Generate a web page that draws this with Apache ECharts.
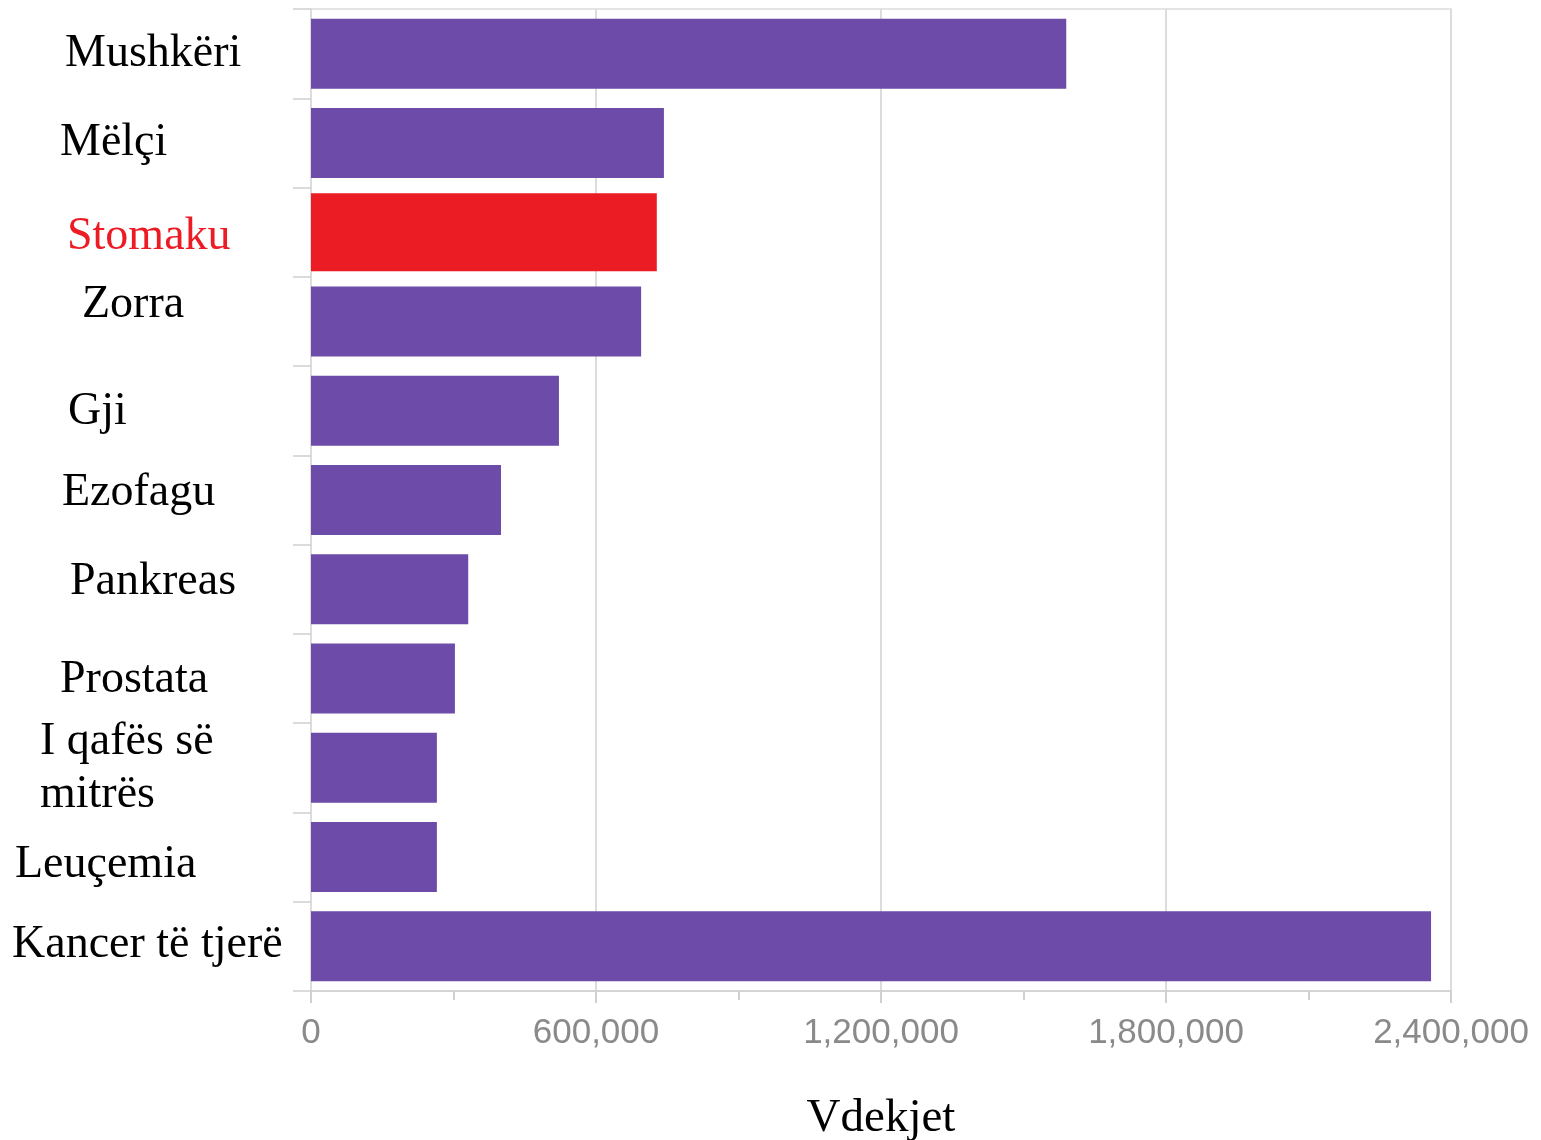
<!DOCTYPE html>
<html>
<head>
<meta charset="utf-8">
<script src="https://cdn.jsdelivr.net/npm/echarts@6/dist/echarts.min.js"></script>
<style>html,body{margin:0;padding:0;background:#fff}#c{width:1541px;height:1140px}</style>
</head>
<body>
<div id="c"></div>
<script>
const categories = ['Mushkëri','Mëlçi','Stomaku','Zorra','Gji','Ezofagu','Pankreas','Prostata','I qafës së\nmitrës','Leuçemia','Kancer të tjerë'];
const deaths = [1590000, 743000, 728000, 695000, 522000, 400000, 331000, 303000, 265000, 265000, 2358000];
const highlightIndex = 2;
const xTicks = [0, 600000, 1200000, 1800000, 2400000];

// label style offsets (dx from x=12, dy from band centre)
const labelDx = [53, 48, 55, 70, 56, 50, 58, 48, 28, 3, 0];
const labelDy = [0, 0, 5, -17, 1, -7, -7, 1, 1, 8, -1];

const purple = '#6c4ba9', red = '#ec1c24';

const rich = {};
categories.forEach((c, i) => {
  const dy = labelDy[i];
  rich['s' + i] = {
    fontFamily: 'Liberation Serif', fontSize: 46, lineHeight: 53,
    color: i === highlightIndex ? red : '#000',
    align: 'left',
    padding: [dy > 0 ? 2 * dy : 0, 0, dy < 0 ? -2 * dy : 0, labelDx[i]]
  };
});

const chart = echarts.init(document.getElementById('c'));
chart.setOption({
  animation: false,
  grid: { left: 311, right: 90, top: 9, bottom: 149, containLabel: false, outerBoundsMode: 'none',
          show: true, borderColor: '#dcdcdc', borderWidth: 1.5 },
  xAxis: {
    type: 'value', min: xTicks[0], max: xTicks[xTicks.length - 1], interval: xTicks[1] - xTicks[0],
    name: 'Vdekjet', nameLocation: 'middle', nameGap: 104,
    nameTextStyle: { fontFamily: 'Liberation Serif', fontSize: 47, color: '#000' },
    axisLine: { show: true, lineStyle: { color: '#d0d0d0', width: 1.5 } },
    axisTick: { show: true, length: 12, lineStyle: { color: '#d0d0d0', width: 2 } },
    minorTick: { show: true, splitNumber: 2, length: 9, lineStyle: { color: '#d0d0d0', width: 2 } },
    splitLine: { show: true, lineStyle: { color: '#dcdcdc', width: 2 } },
    axisLabel: {
      fontFamily: 'Liberation Sans', fontSize: 35, color: '#8a8a8a', margin: 25,
      formatter: v => v.toLocaleString('en-US')
    }
  },
  yAxis: [
    {
      type: 'category', inverse: true, data: categories,
      axisLine: { show: true, lineStyle: { color: '#dcdcdc', width: 1.5 } },
      axisTick: { show: true, length: 18, lineStyle: { color: '#d0d0d0', width: 1.5 } },
      axisLabel: {
        align: 'left', margin: 299, fontFamily: 'Liberation Serif', fontSize: 46,
        lineHeight: 53, color: '#000',
        formatter: (v, i) => '{s' + i + '|' + v + '}',
        rich: rich
      }
    },
    {
      type: 'category', inverse: true, data: categories, position: 'left',
      show: false
    }
  ],
  series: [
    {
      type: 'bar', barWidth: 70, yAxisIndex: 0,
      data: deaths.map((v, i) => i === highlightIndex ? '-' : v),
      itemStyle: { color: purple }
    },
    {
      type: 'bar', barWidth: 78, yAxisIndex: 1, z: 3,
      data: deaths.map((v, i) => i === highlightIndex ? v : '-'),
      itemStyle: { color: red }
    }
  ]
});
</script>
</body>
</html>
